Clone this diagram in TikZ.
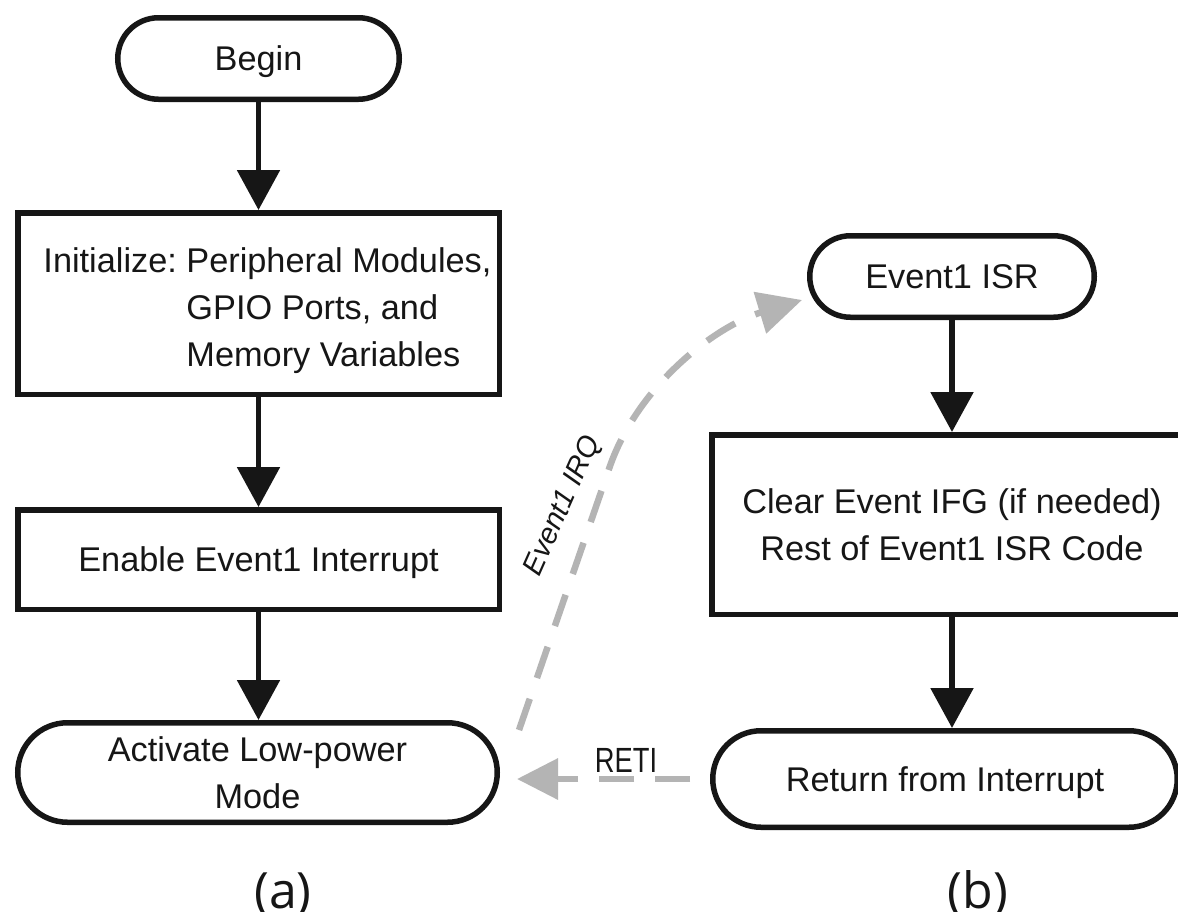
\documentclass[tikz,border=0pt]{standalone}
\usepackage{fontspec}
\setmainfont{Liberation Sans}
\newfontfamily\capfont{Open Sans}
\usetikzlibrary{arrows.meta,shapes.misc}
\definecolor{ink}{HTML}{161616}
\definecolor{irqgray}{HTML}{B4B4B4}
\begin{document}
\begin{tikzpicture}[x=1pt,y=-1pt,
  txt/.style={font=\fontsize{34.3}{47}\selectfont, text=ink},
  stadium/.style={rounded rectangle, draw=ink, line width=5.5pt, txt, inner sep=0pt},
  stepbox/.style={rectangle, draw=ink, line width=5.5pt, txt, inner sep=0pt},
  flow/.style={draw=ink, line width=5.5pt, -{Triangle[width=42pt,length=40pt]}},
  irq/.style={draw=irqgray, line width=6.5pt, dash pattern=on 33pt off 22pt,
              -{Triangle[width=42pt,length=44pt]}},
  caption/.style={font=\capfont\fontsize{50}{55}\selectfont, text=ink, anchor=base},
]
\clip (0,0) rectangle (1178,911);
\fill[white] (0,0) rectangle (1178,911);

% (a) main program
\node[stadium, text depth=0pt, minimum width=281.5pt, minimum height=81.5pt]
  (begin) at (258.5,58.5) {Begin};
\node[stepbox, minimum width=481.5pt, minimum height=181.5pt] (init) at (258.5,303.5)
  {\hspace*{18pt}\begin{tabular}{@{}l@{\ }l@{}}\rule{0pt}{47pt}Initialize: & Peripheral Modules,\\
    & GPIO Ports, and\\ & Memory Variables\end{tabular}};
\node[stepbox, text depth=0pt, minimum width=481.5pt, minimum height=99.5pt]
  (enable) at (258.5,559.5) {Enable Event1 Interrupt};
\node[stadium, align=center, minimum width=479.5pt, minimum height=99.5pt]
  (act) at (257.5,772.5) {Activate Low-power\\Mode};

\draw[flow] (begin.south) -- (init.north);
\draw[flow] (init.south) -- (enable.north);
\draw[flow] (enable.south) -- (enable.south |- act.north);

% (b) interrupt service routine
\node[stadium, text depth=0pt, minimum width=284.5pt, minimum height=81.5pt]
  (isr) at (952,276.5) {Event1 ISR};
\node[stepbox, align=center, minimum width=480.5pt, minimum height=179.5pt]
  (code) at (952,524.5) {Clear Event IFG (if needed)\\Rest of Event1 ISR Code};
\node[stadium, text depth=0pt, minimum width=464.5pt, minimum height=96.5pt]
  (ret) at (945,779) {Return from Interrupt};

\draw[flow] (isr.south) -- (code.north);
\draw[flow] (code.south) -- (code.south |- ret.north);

% interrupt request and return
\coordinate (irqstart) at (519,730);
\coordinate (irqend) at (802,300);
\draw[irq] (irqstart) -- (610,466) .. controls (639,384) and (716,326) .. (irqend);
\node[font=\fontsize{29}{32}\selectfont\itshape, text=ink, rotate=66]
  (irqlabel) at (563,506) {Event1 IRQ};

\draw[irq, dash pattern=on 35pt off 21pt, shorten <=20pt, shorten >=17pt,
      -{Triangle[width=40pt,length=41pt]}]
  (ret.west) -- (ret.west -| act.east);
\node[font=\fontsize{35}{40}\selectfont, text=ink, xscale=0.78, anchor=base]
  (retilabel) at (626,772) {RETI};

% captions
\node[caption] (capa) at (283,908) {(a)};
\node[caption] (capb) at (978,908) {(b)};
\end{tikzpicture}
\end{document}
